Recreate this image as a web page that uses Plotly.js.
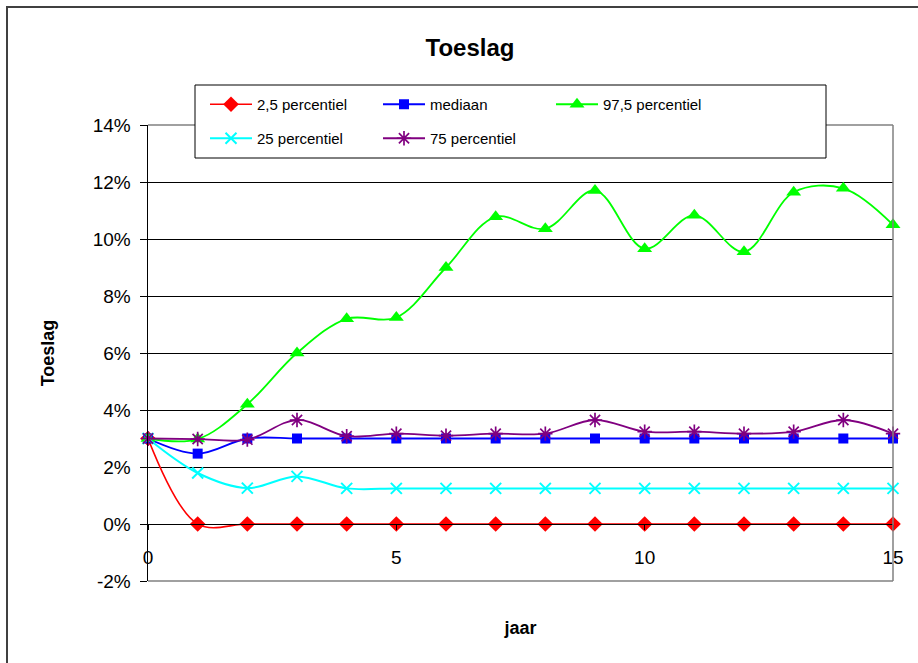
<!DOCTYPE html>
<html><head><meta charset="utf-8">
<script src="https://cdn.plot.ly/plotly-3.0.1.min.js"></script>
<style>html,body{margin:0;padding:0;background:#fff}#c{width:918px;height:663px}</style>
</head><body><div id="c"></div>
<script>
const jaren = [0,1,2,3,4,5,6,7,8,9,10,11,12,13,14,15];
const p2_5  = [3.0,0,0,0,0,0,0,0,0,0,0,0,0,0,0,0];
const mediaan = [3.0,2.47,3.0,3.0,3.0,3.0,3.0,3.0,3.0,3.0,3.0,3.0,3.0,3.0,3.0,3.0];
const p97_5 = [3.0,2.98,4.2,6.0,7.2,7.25,9.0,10.78,10.36,11.7,9.66,10.83,9.55,11.64,11.78,10.5];
const p25   = [3.0,1.79,1.26,1.67,1.25,1.25,1.25,1.25,1.25,1.25,1.25,1.25,1.25,1.25,1.25,1.25];
const p75   = [3.0,2.98,2.96,3.65,3.08,3.17,3.1,3.17,3.17,3.65,3.24,3.24,3.17,3.24,3.65,3.17];
const namen = ['2,5 percentiel','mediaan','97,5 percentiel','25 percentiel','75 percentiel'];
const yTickVals = [-2,0,2,4,6,8,10,12,14];
const yTickText = ['-2%','0%','2%','4%','6%','8%','10%','12%','14%'];
const xTickVals = [0,5,10,15];
const xTickText = ['0','5','10','15'];

function tr(y, name, color, symbol, size, legend, width, extra) {
  return {
    x: jaren, y: y, name: name, type: 'scatter', mode: 'lines+markers',
    line: {color: color, width: width, shape: 'spline', smoothing: 1},
    marker: Object.assign({color: color, symbol: symbol, size: size}, extra || {}),
    cliponaxis: false, legend: legend
  };
}
const data = [
  tr(p2_5, namen[0], '#ff0000', 'diamond', 12, 'legend', 1.6),
  tr(mediaan, namen[1], '#0000ff', 'square', 10, 'legend', 1.8),
  tr(p97_5, namen[2], '#00ff00', 'triangle-up', 13, 'legend', 1.8),
  tr(p25, namen[3], '#00ffff', 'x-thin-open', 11, 'legend2', 2, {line: {color: '#00ffff', width: 2}}),
  tr(p75, namen[4], '#800080', 'asterisk-open', 12, 'legend2', 1.8, {line: {color: '#800080', width: 1.7}})
];
const font = 'Liberation Sans, Arial, sans-serif';
const legendCommon = {orientation: 'h', xanchor: 'left', yanchor: 'top', bgcolor: 'rgba(0,0,0,0)',
  borderwidth: 0, font: {family: font, size: 15, color: '#000'}, entrywidth: 116, entrywidthmode: 'pixels',
  itemwidth: 42, tracegroupgap: 0};
const layout = {
  width: 918, height: 663,
  margin: {l: 148, r: 25, t: 125, b: 82},
  paper_bgcolor: '#fff', plot_bgcolor: '#fff',
  font: {family: font, color: '#000'},
  showlegend: true,
  title: {text: '<b>Toeslag</b>', font: {family: font, size: 24, color: '#000'}, xref: 'container', x: 0.512, xanchor: 'center', yref: 'container', y: 1 - 48/663, yanchor: 'middle'},
  xaxis: {range: [0, 15], tickvals: xTickVals, ticktext: xTickText, showgrid: false, zeroline: false,
    showline: true, linecolor: '#000', linewidth: 1, ticks: 'outside', ticklen: 5, tickcolor: '#000',
    anchor: 'free', position: 1/8, ticklabelstandoff: 11,
    tickfont: {family: font, size: 19, color: '#000'},
    title: {text: '<b>jaar</b>', font: {family: font, size: 18, color: '#000'}, standoff: 54}},
  yaxis: {range: [-2, 14], tickvals: yTickVals, ticktext: yTickText, showgrid: true, gridcolor: '#000', gridwidth: 1,
    zeroline: false, showline: true, linecolor: '#000', linewidth: 1.5, ticks: 'outside', ticklen: 7, tickcolor: '#000',
    tickfont: {family: font, size: 19, color: '#000'}, ticklabelstandoff: 5,
    title: {text: '<b>Toeslag</b>', font: {family: font, size: 18, color: '#000'}, standoff: 33}},
  legend: Object.assign({x: (205-148)/745, y: 1 + (125-88)/456}, legendCommon),
  legend2: Object.assign({x: (205-148)/745, y: 1 + (125-122)/456}, legendCommon),
  shapes: [
    {type: 'line', xref: 'paper', yref: 'paper', x0: 0, x1: 1, y0: 1, y1: 1, line: {color: '#808080', width: 1.5}, layer: 'above'},
    {type: 'line', xref: 'paper', yref: 'paper', x0: 1, x1: 1, y0: 0, y1: 1, line: {color: '#808080', width: 1.5}, layer: 'above'},
    {type: 'line', xref: 'paper', yref: 'paper', x0: 0, x1: 1, y0: 0, y1: 0, line: {color: '#808080', width: 1.5}, layer: 'above'},
    {type: 'rect', xref: 'paper', yref: 'paper', x0: (195-148)/745, x1: (826-148)/745, y0: 1 - (158-125)/456, y1: 1 + (125-85)/456,
      line: {color: '#000', width: 1}, fillcolor: '#fff', layer: 'above'},
    {type: 'path', xref: 'paper', yref: 'paper', path: 'M ' + ((7-148)/745) + ' -0.4 L ' + ((7-148)/745) + ' ' + (1 + (125-7)/456) + ' L 1.2 ' + (1 + (125-7)/456),
      line: {color: '#404040', width: 2}, layer: 'above'}
  ]
};
Plotly.newPlot('c', data, layout, {displayModeBar: false, staticPlot: true});
</script></body></html>
